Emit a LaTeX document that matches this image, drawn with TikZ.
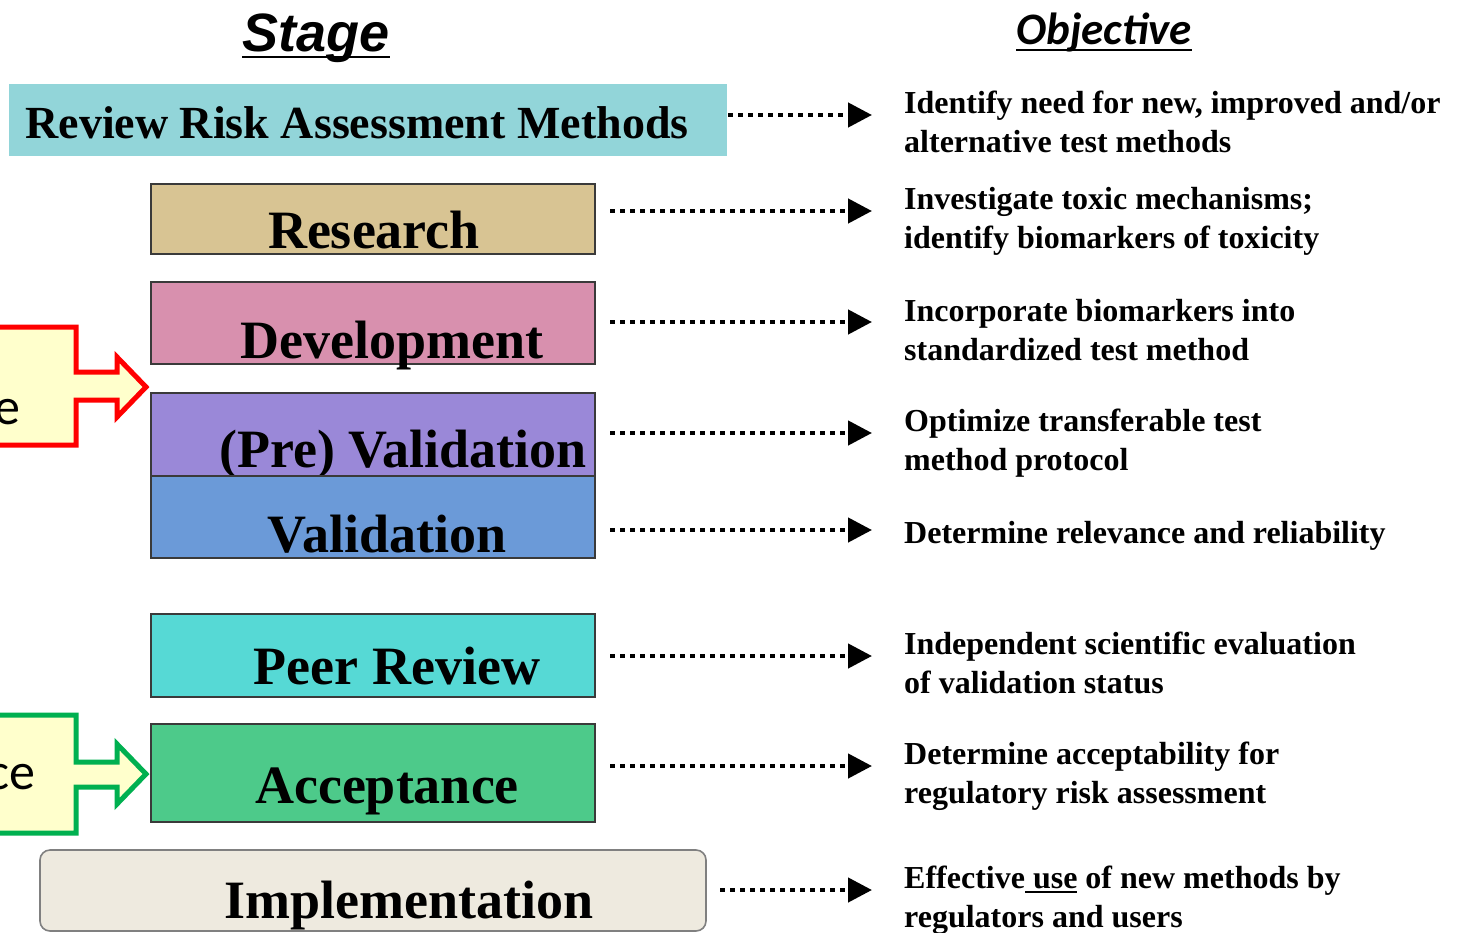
\documentclass[tikz,border=0pt]{standalone}
\usepackage{fontspec}
\setmainfont{Liberation Serif}
\newfontfamily\hdsans{Liberation Sans}
\newfontfamily\calib{Carlito}
\usetikzlibrary{arrows.meta,calc}
\definecolor{cRev}{HTML}{92D5D9}
\definecolor{cRes}{HTML}{D8C493}
\definecolor{cDev}{HTML}{D890AE}
\definecolor{cPre}{HTML}{9A88D8}
\definecolor{cVal}{HTML}{6B9AD8}
\definecolor{cPeer}{HTML}{56D9D5}
\definecolor{cAcc}{HTML}{4DCA8A}
\definecolor{cImp}{HTML}{EEEADF}
\definecolor{cYel}{HTML}{FFFFCC}
\definecolor{cGreen}{HTML}{00B050}
\definecolor{boxline}{HTML}{3A3A3A}
\newcommand\thickul[1]{\setbox0\hbox{#1}\rlap{\rule[-5pt]{\wd0}{1.8pt}}\box0{}}
\begin{document}
\begin{tikzpicture}[x=1pt,y=-1pt,
  box/.style={draw=boxline, line width=1.6pt, minimum width=444pt, inner sep=0pt, outer sep=0pt},
  stxt/.style={font=\fontsize{54}{60}\selectfont\bfseries, inner sep=0pt, anchor=base},
  obj/.style={font=\fontsize{32}{39}\selectfont\bfseries, align=left, anchor=west, inner sep=0pt},
  dots/.style={line width=4.5pt, dash pattern=on 4.5pt off 5.5pt, -{Triangle[length=24pt,width=24pt]}},
  callout/.style={line width=5pt, fill=cYel, line join=miter},
  ctxt/.style={font=\calib\fontsize{52}{60}\selectfont, inner sep=0pt, anchor=base east}
]
\useasboundingbox (0,0) rectangle (1458,932);
\fill[white] (0,0) rectangle (1458,932);
\clip (0,0) rectangle (1458,932);

% headers
\node[font=\hdsans\bfseries\itshape\fontsize{54}{60}\selectfont, inner sep=0pt, anchor=base] (stage) at (316,51) {Stage};
\draw[line width=2.5pt] ([yshift=-6pt]stage.base west) -- ([yshift=-6pt]stage.base east);
\node[font=\calib\bfseries\itshape\fontsize{45}{50}\selectfont, inner sep=0pt, anchor=base] (objh) at (1104,44) {Objective};
\draw[line width=2.5pt] ([yshift=-6pt]objh.base west) -- ([yshift=-6pt]objh.base east);

% stage boxes
\node[box, draw=none, fill=cRev, minimum width=718pt, minimum height=72pt] (rev) at (368,120) {};
\node[stxt, font=\fontsize{46}{50}\selectfont\bfseries] (revT) at (357,138) {Review Risk Assessment Methods};
\node[box, fill=cRes, minimum height=70pt] (res) at (373,219) {};
\node[stxt] (resT) at (374,248) {Research};
\node[box, fill=cDev, minimum height=82pt] (dev) at (373,323) {};
\node[stxt] (devT) at (392,358) {Development};
\node[box, fill=cPre, minimum height=83pt] (pre) at (373,434.5) {};
\node[stxt] (preT) at (403,467) {(Pre) Validation};
\node[box, fill=cVal, minimum height=82pt] (val) at (373,517) {};
\node[stxt] (valT) at (387,552) {Validation};
\node[box, fill=cPeer, minimum height=83pt] (peer) at (373,655.5) {};
\node[stxt] (peerT) at (397,684) {Peer Review};
\node[box, fill=cAcc, minimum height=98pt] (acc) at (373,773) {};
\node[stxt] (accT) at (387,803) {Acceptance};
\node[box, draw=gray, fill=cImp, minimum width=666pt, minimum height=81pt, rounded corners=10pt] (imp) at (373,890.5) {};
\node[stxt] (impT) at (409,918) {Implementation};

% objectives
\node[obj] (o1) at (904,122) {Identify need for new, improved and/or\\alternative test methods};
\node[obj] (o2) at (904,221) {Investigate toxic mechanisms;\\identify biomarkers of toxicity};
\node[obj] (o3) at (904,330) {Incorporate biomarkers into\\standardized test method};
\node[obj] (o4) at (904,443) {Optimize transferable test\\method protocol};
\node[obj] (o5) at (904,536) {Determine relevance and reliability};
\node[obj] (o6) at (904,663) {Independent scientific evaluation\\of validation status};
\node[obj] (o7) at (904,776) {Determine acceptability for\\regulatory risk assessment};
\node[obj] (o8) at (904,900) {Effective\thickul{ use} of new methods by\\regulators and users};

% arrow tips
\coordinate (e1) at (872,115);
\coordinate (e2) at (872,211);
\coordinate (e3) at (872,322);
\coordinate (e4) at (872,433);
\coordinate (e5) at (872,530);
\coordinate (e6) at (872,656);
\coordinate (e7) at (872,766);
\coordinate (e8) at (872,890);
\draw[dots] ($(rev.east |- e1)+(1,0)$) -- (e1);
\draw[dots] ($(res.east |- e2)+(15,0)$) -- (e2);
\draw[dots] ($(dev.east |- e3)+(15,0)$) -- (e3);
\draw[dots] ($(pre.east |- e4)+(15,0)$) -- (e4);
\draw[dots] ($(val.east |- e5)+(15,0)$) -- (e5);
\draw[dots] ($(peer.east |- e6)+(15,0)$) -- (e6);
\draw[dots] ($(acc.east |- e7)+(15,0)$) -- (e7);
\draw[dots] ($(imp.east |- e8)+(14,0)$) -- (e8);

% callouts
\draw[callout, draw=red] (-10,327) -- (76,327) -- (76,372) -- (117,372) -- (117,357) -- (146,387) -- (117,417) -- (117,400) -- (76,400) -- (76,445) -- (-10,445) -- cycle;
\node[ctxt] (redT) at (21,424) {e};
\draw[callout, draw=cGreen] (-10,715) -- (76,715) -- (76,762) -- (117,762) -- (117,744) -- (146,774) -- (117,804) -- (117,787) -- (76,787) -- (76,833) -- (-10,833) -- cycle;
\node[ctxt] (grnT) at (36,789) {ce};
\end{tikzpicture}
\end{document}
